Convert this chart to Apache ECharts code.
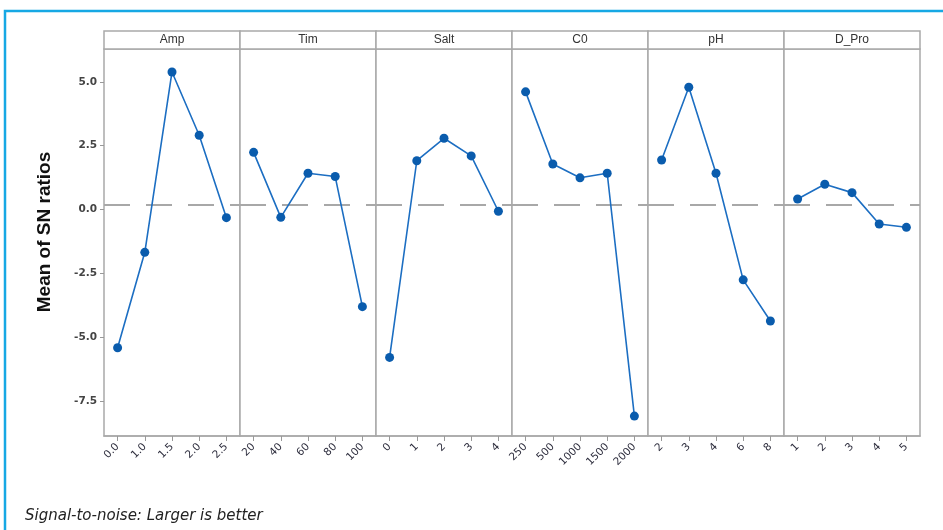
<!DOCTYPE html>
<html>
<head>
<meta charset="utf-8">
<script src="https://cdn.jsdelivr.net/npm/echarts@6/dist/echarts.min.js"></script>
<style>
  html, body { margin: 0; padding: 0; background: #fff; }
  #chart { width: 943px; height: 530px; }
</style>
</head>
<body>
<div id="chart"></div>
<script>
// Main effects plot for SN ratios, one panel per factor
const factors = ['Amp', 'Tim', 'Salt', 'C0', 'pH', 'D_Pro'];

const levelsAmp  = ['0.0', '1.0', '1.5', '2.0', '2.5'];
const levelsTim  = ['20', '40', '60', '80', '100'];
const levelsSalt = ['0', '1', '2', '3', '4'];
const levelsC0   = ['250', '500', '1000', '1500', '2000'];
const levelsPH   = ['2', '3', '4', '6', '8'];
const levelsDPro = ['1', '2', '3', '4', '5'];

const snAmp  = [-5.42, -1.68, 5.39, 2.91, -0.32];
const snTim  = [2.24, -0.31, 1.42, 1.29, -3.81];
const snSalt = [-5.80, 1.91, 2.79, 2.10, -0.07];
const snC0   = [4.61, 1.78, 1.24, 1.42, -8.10];
const snPH   = [1.94, 4.79, 1.42, -2.76, -4.37];
const snDPro = [0.41, 0.99, 0.66, -0.57, -0.70];

const overallMean = 0.2;
const yTicks = [-7.5, -5.0, -2.5, 0.0, 2.5, 5.0];
const yMin = -8.88, yMax = 6.29;

const levels = [levelsAmp, levelsTim, levelsSalt, levelsC0, levelsPH, levelsDPro];
const values = [snAmp, snTim, snSalt, snC0, snPH, snDPro];

const panelLeft = 104, panelW = 136, panelTop = 49, panelBottom = 436;
const stripTop = 31;
const frameGray = '#a9a9a9';

const grids = [], xAxes = [], yAxes = [], series = [], graphics = [];

factors.forEach((name, i) => {
  const left = panelLeft + i * panelW;
  grids.push({
    left: left, top: panelTop, width: panelW, height: panelBottom - panelTop,
    show: true, borderColor: frameGray, borderWidth: 1.5, backgroundColor: '#fff'
  });
  xAxes.push({
    type: 'category', gridIndex: i, data: levels[i], boundaryGap: true,
    axisLine: { show: true, onZero: false, lineStyle: { color: frameGray, width: 1.5 } },
    axisTick: { show: true, alignWithLabel: true, length: 5, lineStyle: { color: '#999' } },
    axisLabel: {
      rotate: 45, margin: 9, fontSize: 10.5, fontFamily: 'DejaVu Sans',
      color: '#2c2c3c', interval: 0
    },
    splitLine: { show: false }
  });
  yAxes.push({
    type: 'value', gridIndex: i, min: yMin, max: yMax,
    axisLine: { show: false },
    axisTick: { show: i === 0, length: 4, customValues: yTicks, lineStyle: { color: '#999' } },
    axisLabel: {
      show: i === 0, customValues: yTicks, margin: 7,
      fontSize: 10.5, fontWeight: 'bold', fontFamily: 'DejaVu Sans', color: '#444',
      formatter: v => v.toFixed(1)
    },
    splitLine: { show: false }
  });
  series.push({
    type: 'line', xAxisIndex: i, yAxisIndex: i, data: values[i],
    symbol: 'circle', symbolSize: 9, z: 5,
    lineStyle: { color: '#1c6ec2', width: 1.6 },
    itemStyle: { color: '#0a5cad' },
    markLine: {
      silent: true, symbol: 'none', z: 1,
      label: { show: false },
      lineStyle: { color: '#a8a8a8', width: 2, type: [26, 16] },
      data: [{ yAxis: overallMean }]
    }
  });
  // factor header strip
  graphics.push({
    type: 'rect', z: 10,
    shape: { x: left, y: stripTop, width: panelW, height: panelTop - stripTop },
    style: { fill: '#fff', stroke: frameGray, lineWidth: 1.5 }
  });
  graphics.push({
    type: 'text', z: 11, x: left + panelW / 2, y: (stripTop + panelTop) / 2,
    style: {
      text: name, fill: '#333', font: '12px "Liberation Sans"',
      textAlign: 'center', textVerticalAlign: 'middle'
    }
  });
});

// outer blue frame
graphics.push({
  type: 'rect', z: 0,
  shape: { x: 5, y: 11, width: 980, height: 560 },
  style: { fill: 'none', stroke: '#16a8e4', lineWidth: 2.5 }
});
// y axis title
graphics.push({
  type: 'text', z: 11, x: 45, y: 232, rotation: Math.PI / 2,
  style: {
    text: 'Mean of SN ratios', fill: '#111', font: 'bold 19px "Liberation Sans"',
    textAlign: 'center', textVerticalAlign: 'middle'
  }
});
// footnote
graphics.push({
  type: 'text', z: 11, x: 25, y: 516,
  style: {
    text: 'Signal-to-noise: Larger is better', fill: '#222',
    font: 'italic 15px "DejaVu Sans"', textAlign: 'left', textVerticalAlign: 'middle'
  }
});

const chart = echarts.init(document.getElementById('chart'), null, { renderer: 'canvas' });
chart.setOption({
  animation: false,
  backgroundColor: '#fff',
  grid: grids,
  xAxis: xAxes,
  yAxis: yAxes,
  series: series,
  graphic: graphics
});
</script>
</body>
</html>
